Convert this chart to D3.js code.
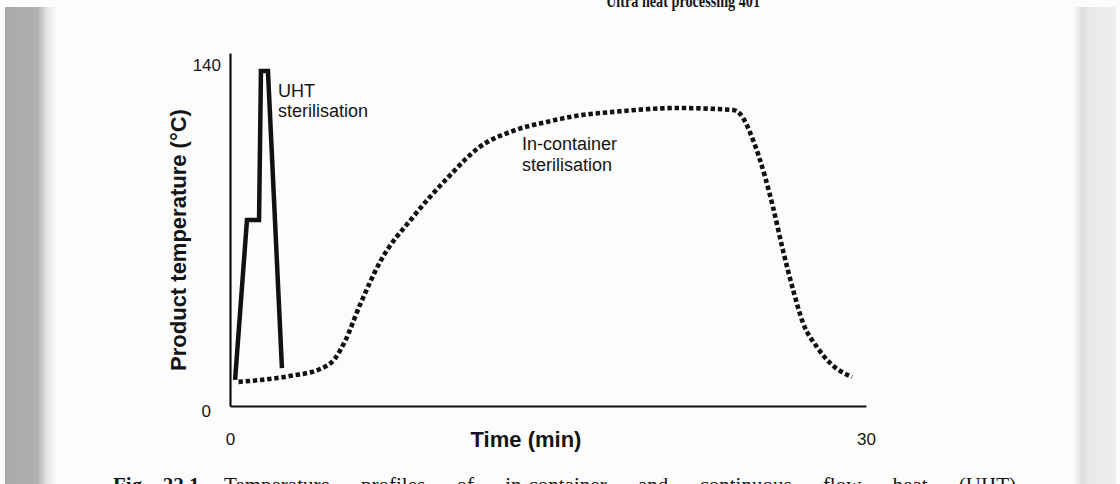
<!DOCTYPE html>
<html>
<head>
<meta charset="utf-8">
<script src="https://cdn.jsdelivr.net/npm/d3@7"></script>
<style>
  html, body { margin: 0; padding: 0; background: #fff; }
  svg text { font-family: "Liberation Sans", Arial, sans-serif; fill: #151515; }
</style>
</head>
<body>
<div id="chart"></div>
<script>
// Temperature profiles: UHT vs in-container sterilisation

const xTicks = [0, 30];
const yTicks = [0, 140];

// UHT sterilisation (time min, temperature °C)
const uhtTime = [0.24, 0.80, 1.37, 1.46, 1.79, 2.45];
const uhtTemp = [10.7, 76.4, 76.4, 137.6, 137.6, 15.6];

// In-container sterilisation
const canTime = [0.4, 2.8, 4.25, 4.95, 5.42, 6.13, 7.08, 8.63, 10.24, 11.79, 13.35, 14.95, 16.51, 18.07, 21.08, 23.73, 24.06, 24.67, 25.24, 25.61, 26.08, 26.56, 27.03, 27.69, 28.30, 29.34];
const canTemp = [9.9, 12.3, 15.2, 19.5, 26.5, 41.5, 59.2, 77.6, 93.5, 106.5, 113.0, 116.7, 119.4, 120.8, 122.4, 121.6, 120.0, 109.3, 94.1, 81.8, 64.1, 47.7, 34.1, 24.2, 17.7, 11.9];

const width = 1120, height = 484;

const svg = d3.select("#chart").append("svg")
    .attr("width", width)
    .attr("height", height);

// page background (scanned book page)
const defs = svg.append("defs");
const lg = defs.append("linearGradient").attr("id", "gutterL");
lg.append("stop").attr("offset", "0%").attr("stop-color", "#a9a9a9");
lg.append("stop").attr("offset", "62%").attr("stop-color", "#b0b0b0");
lg.append("stop").attr("offset", "80%").attr("stop-color", "#e4e4e4");
lg.append("stop").attr("offset", "100%").attr("stop-color", "#fcfcfc");
const rg = defs.append("linearGradient").attr("id", "gutterR");
rg.append("stop").attr("offset", "0%").attr("stop-color", "#fbfbfb");
rg.append("stop").attr("offset", "20%").attr("stop-color", "#dedede");
rg.append("stop").attr("offset", "35%").attr("stop-color", "#e8e8e8");
rg.append("stop").attr("offset", "100%").attr("stop-color", "#eeeeee");

svg.append("rect").attr("width", width).attr("height", height).attr("fill", "#fcfcfc");
svg.append("rect").attr("x", 5).attr("y", 7).attr("width", 52).attr("height", height - 7).attr("fill", "url(#gutterL)");
svg.append("rect").attr("x", 1074).attr("y", 7).attr("width", 42).attr("height", height - 7).attr("fill", "url(#gutterR)");

// running head and caption, cut off by the crop as in the scan
svg.append("text")
    .attr("x", 606).attr("y", 7)
    .attr("textLength", 154)
    .attr("lengthAdjust", "spacingAndGlyphs")
    .style("font-family", "'Liberation Serif', serif")
    .style("font-weight", "bold")
    .style("font-size", "18px")
    .text("Ultra heat processing     401");

svg.append("text")
    .attr("x", 113).attr("y", 492)
    .style("font-family", "'Liberation Serif', serif")
    .style("font-weight", "bold")
    .style("font-size", "21px")
    .style("word-spacing", "10px")
    .text("Fig. 22.1");
svg.append("text")
    .attr("x", 224).attr("y", 492)
    .style("font-family", "'Liberation Serif', serif")
    .style("font-size", "21px")
    .style("word-spacing", "26px")
    .text("Temperature profiles of in-container and continuous flow heat (UHT)");

const x = d3.scaleLinear().domain([0, 30]).range([230, 866]);
const y = d3.scaleLinear().domain([0, 145]).range([406, 53]);

const g = svg.append("g");

// axes
const xAxis = g.append("g")
    .attr("transform", `translate(0,${y(0)})`)
    .call(d3.axisBottom(x).tickValues(xTicks).tickSize(0).tickPadding(27).tickFormat(d3.format("d")));
const yAxis = g.append("g")
    .attr("transform", `translate(${x(0)},0)`)
    .call(d3.axisLeft(y).tickValues(yTicks).tickSize(0).tickPadding(9).tickFormat(d3.format("d")));

[xAxis, yAxis].forEach(a => {
    a.select(".domain").attr("stroke", "#111").attr("stroke-width", 2.2);
    a.selectAll("text")
        .style("font-family", "'Liberation Sans', Arial, sans-serif")
        .style("font-size", "17px")
        .attr("fill", "#151515");
});
yAxis.selectAll(".tick text").filter(d => d === 0).attr("x", -19).attr("dy", "0.6em");

// axis titles
g.append("text")
    .attr("x", 526).attr("y", 447)
    .attr("text-anchor", "middle")
    .style("font-weight", "bold")
    .style("font-size", "22px")
    .text("Time (min)");

g.append("text")
    .attr("transform", "translate(186,240) rotate(-90)")
    .attr("text-anchor", "middle")
    .style("font-weight", "bold")
    .style("font-size", "22px")
    .text("Product temperature (°C)");

// curves
const uht = uhtTime.map((t, i) => [t, uhtTemp[i]]);
const can = canTime.map((t, i) => [t, canTemp[i]]);

g.append("path")
    .datum(uht)
    .attr("fill", "none")
    .attr("stroke", "#111")
    .attr("stroke-width", 4.5)
    .attr("stroke-linejoin", "miter")
    .attr("d", d3.line().x(d => x(d[0])).y(d => y(d[1])));

g.append("path")
    .datum(can)
    .attr("fill", "none")
    .attr("stroke", "#111")
    .attr("stroke-width", 4.6)
    .attr("stroke-dasharray", "4.4,2.8")
    .attr("d", d3.line().curve(d3.curveMonotoneX).x(d => x(d[0])).y(d => y(d[1])));

// labels
const lab1 = g.append("text").attr("x", 278).attr("y", 97).style("font-size", "18px");
lab1.append("tspan").attr("x", 278).text("UHT");
lab1.append("tspan").attr("x", 278).attr("dy", 20).text("sterilisation");

const lab2 = g.append("text").attr("x", 522).attr("y", 150).style("font-size", "18px");
lab2.append("tspan").attr("x", 522).text("In-container");
lab2.append("tspan").attr("x", 522).attr("dy", 21).text("sterilisation");
</script>
</body>
</html>
